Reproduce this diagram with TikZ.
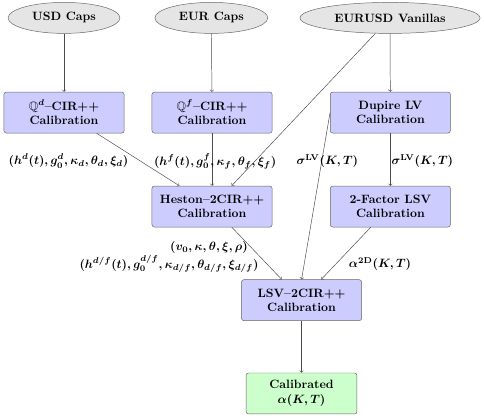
\documentclass[tikz,border=0pt]{standalone}
\usepackage{amssymb}
\usetikzlibrary{shapes.geometric}
\begin{document}
\begin{tikzpicture}
\tikzstyle{src}=[draw=black!60,fill=black!10,ellipse,minimum height=0.9cm,font=\bfseries];
\tikzstyle{cal}=[draw=black!60,fill=blue!20,rounded corners=2pt,minimum width=3.49cm,minimum height=1.19cm,align=center,font=\bfseries\boldmath];
\tikzstyle{res}=[cal,fill=green!20,minimum width=3.22cm];
\tikzstyle{par}=[font=\boldmath];
\tikzstyle{dir}=[->,draw=black!70];
\useasboundingbox (0,0) rectangle (14.06,-12.14);
\node [src,minimum width=3.25cm] (v1) at (1.86,-0.52) {USD Caps};
\node [src,minimum width=3.28cm] (v2) at (6.14,-0.52) {EUR Caps};
\node [src,minimum width=5.23cm] (v3) at (11.33,-0.52) {EURUSD Vanillas};
\node [cal] (v4) at (1.86,-3.27) {$\mathbb{Q}^d$--CIR++\\Calibration};
\node [cal] (v5) at (6.16,-3.27) {$\mathbb{Q}^f$--CIR++\\Calibration};
\node [cal] (v6) at (11.34,-3.27) {Dupire LV\\Calibration};
\draw [dir] (v1) edge (v4);
\draw [dir] (v2) edge (v5);
\draw [dir] (v3) edge (v6);
\node [cal] (v7) at (6.16,-6.00) {Heston--2CIR++\\Calibration};
\node [cal] (v8) at (11.34,-6.00) {2-Factor LSV\\Calibration};
\node [cal] (v9) at (8.76,-8.72) {LSV--2CIR++\\Calibration};
\node [res] (v10) at (8.76,-11.43) {Calibrated\\$\alpha(K,T)$};
\draw [dir] (v4) edge (v7);
\draw [dir] (v5) edge (v7);
\draw [dir] (v3) edge (v7);
\draw [dir] (v6) edge (v8);
\draw [dir] (v6.west) -- (v9.north);
\draw [dir] (v7) edge (v9);
\draw [dir] (v8) edge (v9);
\draw [dir] (v9) edge (v10);
\node [par] (p1) at (1.99,-4.68) {$(h^d(t),g_0^d,\kappa_d,\theta_d,\xi_d)$};
\node [par] (p2) at (6.25,-4.68) {$(h^f(t),g_0^f,\kappa_f,\theta_f,\xi_f)$};
\node [par] (p3) at (9.51,-4.68) {$\sigma^{\mathrm{LV}}(K,T)$};
\node [par] (p4) at (12.27,-4.68) {$\sigma^{\mathrm{LV}}(K,T)$};
\node [par] (p5) at (6.07,-7.20) {$(v_0,\kappa,\theta,\xi,\rho)$};
\node [par] (p6) at (4.91,-7.67) {$(h^{d/f}(t),g_0^{d/f},\kappa_{d/f},\theta_{d/f},\xi_{d/f})$};
\node [par] (p7) at (11.04,-7.67) {$\alpha^{\mathrm{2D}}(K,T)$};
\end{tikzpicture}
\end{document}
